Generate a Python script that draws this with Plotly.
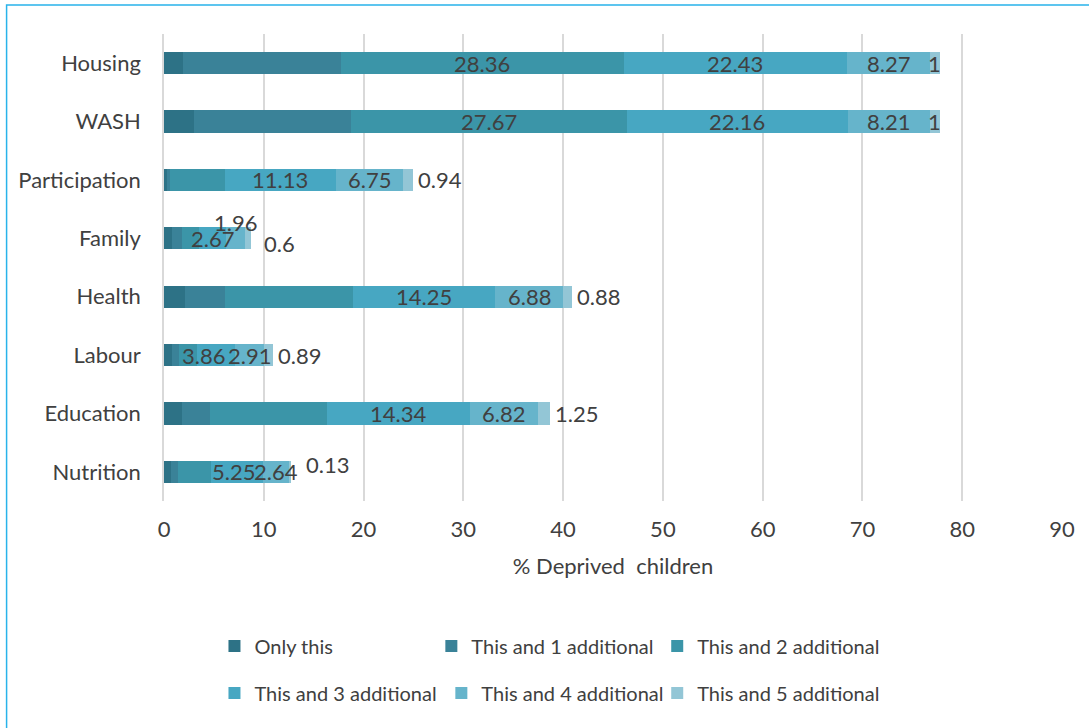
import plotly.graph_objects as go

categories = ["Housing", "WASH", "Participation", "Family", "Health", "Labour", "Education", "Nutrition"]
series_names = ["Only this", "This and 1 additional", "This and 2 additional",
                "This and 3 additional", "This and 4 additional", "This and 5 additional"]

only_this = [1.95, 3.0, 0.3, 0.84, 2.1, 0.8, 1.8, 0.67]
add1 = [15.75, 15.7, 0.3, 0.93, 4.0, 0.7, 2.8, 0.77]
add2 = [28.36, 27.67, 5.5, 1.73, 12.8, 1.8, 11.7, 3.23]
add3 = [22.43, 22.16, 11.13, 2.67, 14.25, 3.86, 14.34, 5.25]
add4 = [8.27, 8.21, 6.75, 1.96, 6.88, 2.91, 6.82, 2.64]
add5 = [1, 1, 0.94, 0.6, 0.88, 0.89, 1.25, 0.13]

labels_add2 = ["28.36", "27.67", None, None, None, None, None, None]
labels_add3 = ["22.43", "22.16", "11.13", "2.67", "14.25", "3.86", "14.34", "5.25"]
labels_add4 = ["8.27", "8.21", "6.75", "1.96", "6.88", "2.91", "6.82", "2.64"]
labels_add5 = ["1", "1", "0.94", "0.6", "0.88", "0.89", "1.25", "0.13"]

x_ticks = [0, 10, 20, 30, 40, 50, 60, 70, 80, 90]

colors = ["#2d7286", "#3a8298", "#3b95a8", "#47a7c2", "#66b4cb", "#93c6d6"]
FONT = "Lato, 'Open Sans', sans-serif"
TXT = "#404040"

values = [only_this, add1, add2, add3, add4, add5]
labels = [None, None, labels_add2, labels_add3, labels_add4, labels_add5]

legend_ids = ["legend", "legend2", "legend3", "legend4", "legend5", "legend6"]

fig = go.Figure()
for i, (name, vals) in enumerate(zip(series_names, values)):
    fig.add_trace(go.Bar(
        y=categories, x=vals, name=name, orientation="h",
        marker=dict(color=colors[i], line=dict(width=0)),
        legend=legend_ids[i], showlegend=True,
        hoverinfo="skip",
    ))

# plot geometry (pixels)
L, R, T, B = 163.5, 27, 34, 227
W, H = 1089, 728
plot_w = W - L - R
plot_h = H - T - B
px_per_unit = plot_w / 90.0
FS = 22
LFS = 20

nudges = {
    ("Family", 4): (0, 16),
    ("Family", 5): (8, -5),
    ("Labour", 3): (-13, 0),
    ("Nutrition", 3): (-3, 0),
    ("Nutrition", 5): (10, 7),
}

annotations = []
for ci, cat in enumerate(categories):
    cum = 0.0
    for si in range(6):
        v = values[si][ci]
        start = cum
        cum += v
        lab = labels[si][ci] if labels[si] is not None else None
        if lab is None:
            continue
        dx, dy = nudges.get((cat, si), (0, 0))
        text_w = 0.5 * FS * len(lab)
        seg_w = v * px_per_unit
        if si == 5 and text_w > seg_w + 2:
            annotations.append(dict(x=cum, y=cat, xref="x", yref="y", text=lab,
                                    showarrow=False, xanchor="left", xshift=3 + dx, yshift=dy,
                                    font=dict(family=FONT, size=FS, color=TXT)))
        else:
            annotations.append(dict(x=(start + cum) / 2, y=cat, xref="x", yref="y", text=lab,
                                    showarrow=False, xanchor="center", xshift=dx, yshift=dy,
                                    font=dict(family=FONT, size=FS, color=TXT)))

# legend entry placement (pixel positions of the swatches)
legend_px = [(230, 646), (447, 646), (673, 646), (230, 693), (457, 693), (673, 693)]
legend_layouts = {}
for lid, (lx, ly) in zip(legend_ids, legend_px):
    legend_layouts[lid] = dict(
        visible=True,
        orientation="h", x=(lx - 16 - L) / plot_w, xanchor="left",
        y=(H - B - ly) / plot_h, yanchor="middle", bgcolor="rgba(0,0,0,0)",
        font=dict(family=FONT, size=LFS, color=TXT))

fig.update_layout(
    width=W, height=H, showlegend=True,
    barmode="stack", bargap=0.62,
    paper_bgcolor="white", plot_bgcolor="white",
    margin=dict(l=L, r=R, t=T, b=B),
    font=dict(family=FONT, size=FS, color=TXT),
    xaxis=dict(range=[0, 90], tickvals=x_ticks, showgrid=True, gridcolor="#d9d9d9", gridwidth=1.5,
               zeroline=False, showline=False, ticks="", ticklabelstandoff=13,
               tickfont=dict(family=FONT, size=FS, color=TXT),
               title=dict(text="% Deprived  children", standoff=17,
                          font=dict(family=FONT, size=FS, color=TXT))),
    yaxis=dict(autorange="reversed", showgrid=False, showline=True, linecolor="#d9d9d9", linewidth=1.5,
               ticks="", ticklabelstandoff=17, tickfont=dict(family=FONT, size=FS, color=TXT)),
    annotations=annotations,
    shapes=[dict(type="rect", xref="paper", yref="paper",
                 x0=(6 - L) / plot_w, x1=(1100 - L) / plot_w,
                 y0=(H - B - 740) / plot_h, y1=(H - B - 5) / plot_h,
                 line=dict(color="#29b3ea", width=1.5), fillcolor="rgba(0,0,0,0)", layer="below")],
    **legend_layouts,
)

fig.write_html("out.html")
